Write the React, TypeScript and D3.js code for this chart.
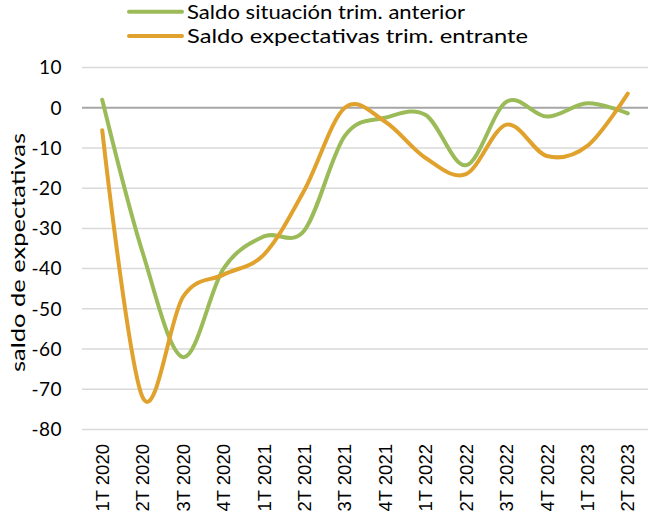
import * as d3 from "d3";
import { useEffect, useRef } from "react";

const categories = [
  "1T 2020", "2T 2020", "3T 2020", "4T 2020",
  "1T 2021", "2T 2021", "3T 2021", "4T 2021",
  "1T 2022", "2T 2022", "3T 2022", "4T 2022",
  "1T 2023", "2T 2023",
];
const situacion = [2, -36, -62, -40, -32, -30.5, -7, -2.5, -1.8, -14.3, 1.5, -2.2, 1.1, -1.4];
const expectativas = [-5.6, -72, -47, -41.5, -36.5, -20.5, 0, -3.5, -12.5, -16.5, -4.2, -12, -9.5, 3.5];
const yTicks = [10, 0, -10, -20, -30, -40, -50, -60, -70, -80];

const series = [
  { name: "Saldo situación trim. anterior", values: situacion, color: "#9BBB59", textLen: 278 },
  { name: "Saldo expectativas trim. entrante", values: expectativas, color: "#E0A22C", textLen: 341 },
];

export default function App() {
  const ref = useRef(null);

  useEffect(() => {
    const svg = d3.select(ref.current);
    svg.selectAll("*").remove();

    const width = 648, height = 517;
    const margin = { top: 67.5, right: 0, bottom: 87.5, left: 82 };
    const font = "Lato, 'Noto Sans', sans-serif";

    const x = d3
      .scaleBand()
      .domain(categories)
      .range([margin.left, width - margin.right])
      .padding(0);

    const y = d3
      .scaleLinear()
      .domain([-80, 10])
      .range([height - margin.bottom, margin.top]);

    // Grid lines
    svg.append("g")
      .selectAll("line")
      .data(yTicks.filter((t) => t !== 0))
      .enter()
      .append("line")
      .attr("x1", margin.left)
      .attr("x2", width - margin.right)
      .attr("y1", (d) => y(d))
      .attr("y2", (d) => y(d))
      .attr("stroke", "#D9D9D9")
      .attr("stroke-width", 1.5);

    // Zero line
    svg.append("line")
      .attr("x1", margin.left)
      .attr("x2", width - margin.right)
      .attr("y1", y(0))
      .attr("y2", y(0))
      .attr("stroke", "#A6A6A6")
      .attr("stroke-width", 2);

    // Y tick labels
    svg.append("g")
      .selectAll("text")
      .data(yTicks)
      .enter()
      .append("text")
      .attr("x", 62)
      .attr("y", (d) => y(d))
      .attr("dy", "0.36em")
      .attr("text-anchor", "end")
      .attr("font-family", font)
      .attr("font-size", "19px")
      .attr("letter-spacing", "0.5px")
      .attr("fill", "#000")
      .text((d) => d);

    // X tick labels
    svg.append("g")
      .selectAll("text")
      .data(categories)
      .enter()
      .append("text")
      .attr("transform", (d) => `translate(${x(d) + x.bandwidth() / 2}, 444) rotate(-90)`)
      .attr("dy", "0.36em")
      .attr("text-anchor", "end")
      .attr("font-family", "'Liberation Sans', Arial, sans-serif")
      .attr("font-size", "18.5px")
      .attr("fill", "#000")
      .text((d) => d);

    // Y-axis label
    svg.append("text")
      .attr("transform", `translate(18, 252.5) rotate(-90)`)
      .attr("dy", "0.36em")
      .attr("text-anchor", "middle")
      .attr("font-family", font)
      .attr("font-size", "20px")
      .attr("textLength", 239)
      .attr("lengthAdjust", "spacingAndGlyphs")
      .attr("fill", "#000")
      .text("saldo de expectativas");

    // Lines
    const line = d3
      .line()
      .x((d, i) => x(categories[i]) + x.bandwidth() / 2)
      .y((d) => y(d))
      .curve(d3.curveCardinal.tension(0));

    series.forEach((s) => {
      svg.append("path")
        .datum(s.values)
        .attr("d", line)
        .attr("fill", "none")
        .attr("stroke", s.color)
        .attr("stroke-width", 4)
        .attr("stroke-linecap", "round");
    });

    // Legend
    const legend = svg.append("g");
    series.forEach((s, i) => {
      const ly = 11.7 + i * 24.3;
      legend.append("line")
        .attr("x1", 129)
        .attr("x2", 182)
        .attr("y1", ly)
        .attr("y2", ly)
        .attr("stroke", s.color)
        .attr("stroke-width", 4)
        .attr("stroke-linecap", "round");
      legend.append("text")
        .attr("x", 187)
        .attr("y", ly)
        .attr("dy", "0.36em")
        .attr("font-family", font)
        .attr("font-size", "20px")
        .attr("textLength", s.textLen)
        .attr("lengthAdjust", "spacingAndGlyphs")
        .attr("fill", "#000")
        .text(s.name);
    });
  }, []);

  return (
    <svg
      ref={ref}
      width={648}
      height={517}
      style={{ position: "absolute", left: 0, top: 0, background: "#fff" }}
    />
  );
}
